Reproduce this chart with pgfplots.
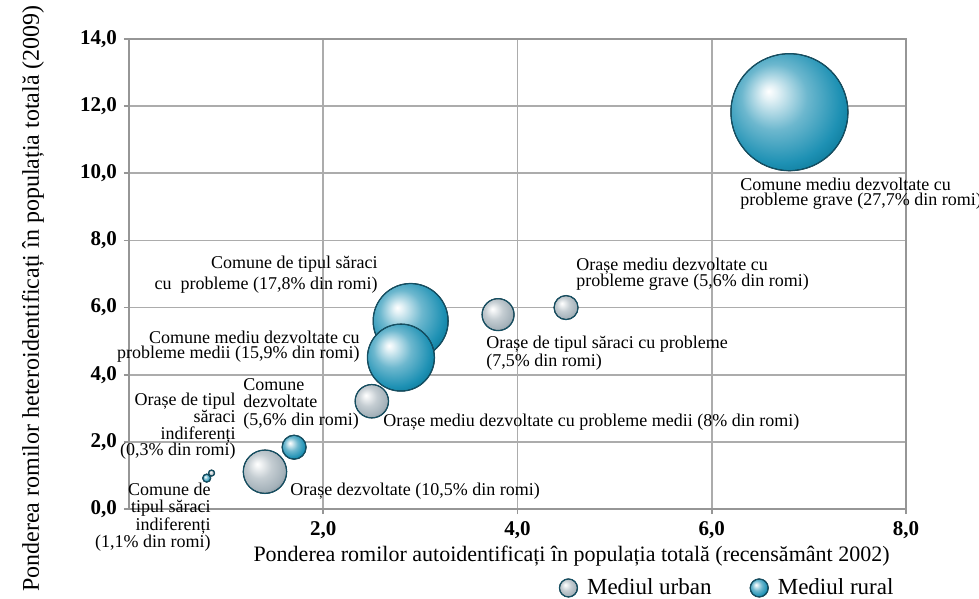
\documentclass[border=0pt]{standalone}
\usepackage{fontspec}
\setmainfont{Liberation Serif}
\usepackage{pgfplots}
\pgfplotsset{compat=1.18}
\usepackage{pgfplotstable}

\definecolor{blueA}{RGB}{30,145,180}
\definecolor{blueD}{RGB}{0,105,135}
\definecolor{greyA}{RGB}{165,178,186}
\definecolor{greyD}{RGB}{105,122,132}
\definecolor{edgec}{RGB}{20,80,100}
\definecolor{gridc}{RGB}{172,172,172}
\definecolor{axisc}{RGB}{150,150,150}

\pgfdeclareradialshading{bblue}{\pgfpoint{-9bp}{9bp}}{%
  color(0bp)=(white); color(3bp)=(blueA!12!white); color(14bp)=(blueA!65!white);
  color(26bp)=(blueA); color(36bp)=(blueD); color(50bp)=(blueD)}
\pgfdeclareradialshading{bgrey}{\pgfpoint{-9bp}{9bp}}{%
  color(0bp)=(white); color(3bp)=(greyA!12!white); color(14bp)=(greyA!65!white);
  color(26bp)=(greyA); color(36bp)=(greyD); color(50bp)=(greyD)}
\pgfdeclareplotmark{nothing}{}

% x = self-identified share, y = hetero-identified share, r = bubble radius (pt)
\pgfplotstableread{
x    y     r
3.80 5.79  8.0
4.50 6.00  6.0
2.50 3.21  8.35
1.40 1.11  10.85
0.85 1.07  1.5
}\urban
\pgfplotstableread{
x    y     r
6.80 11.82 29.25
2.90 5.60  18.75
2.80 4.51  16.75
1.70 1.84  6.0
0.80 0.92  2.0
}\rural

\tikzset{
  lbl/.style={inner sep=0pt, text=black},
}

\begin{document}
\begin{tikzpicture}
\begin{axis}[
  scale only axis, width=388.5pt, height=235pt,
  xmin=0, xmax=8, ymin=0, ymax=14,
  xtick={2,4,6,8}, ytick={0,2,...,14},
  grid=major, grid style={draw=gridc, line width=0.9pt},
  axis line style={draw=axisc, line width=1pt},
  tick style={draw=axisc, line width=0.8pt},
  tick align=outside, major tick length=2.5pt,
  xtick pos=left, ytick pos=left,
  /pgf/number format/fixed, /pgf/number format/fixed zerofill,
  /pgf/number format/precision=1, /pgf/number format/use comma,
  /pgf/number format/assume math mode=true,
  ticklabel style={font=\fontsize{10.5}{12}\selectfont\bfseries},
  xlabel={Ponderea romilor autoidentificați în populația totală (recensământ 2002)},
  ylabel={Ponderea romilor heteroidentificați în populația totală (2009)},
  xlabel style={font=\fontsize{11}{13}\selectfont, at={(axis description cs:0.5695,-0.1)}, anchor=center},
  ylabel style={font=\fontsize{12}{14}\selectfont, at={(axis description cs:-0.1236,0.448)}, anchor=center},
  clip=false,
  legend columns=2,
  legend style={at={(axis description cs:0.545,-0.168)}, anchor=west, draw=none, fill=none,
    font=\fontsize{11.5}{13}\selectfont,
    /tikz/every odd column/.append style={column sep=2.5pt},
    /tikz/every even column/.append style={column sep=17pt}},
]
\addplot[scatter, only marks, mark=nothing,
  visualization depends on={\thisrow{r} \as \rad},
  scatter/@pre marker code/.code={%
    \shade[shading=bgrey] (0,0) circle[radius=\rad pt];
    \draw[edgec, line width=0.6pt] (0,0) circle[radius=\rad pt];},
  scatter/@post marker code/.code={},
  legend image code/.code={%
    \shade[shading=bgrey] (0.3em,0) circle[radius=4.5pt];
    \draw[edgec, line width=0.6pt] (0.3em,0) circle[radius=4.5pt];},
] table[x=x, y=y] {\urban};
\addplot[scatter, only marks, mark=nothing,
  visualization depends on={\thisrow{r} \as \rad},
  scatter/@pre marker code/.code={%
    \shade[shading=bblue] (0,0) circle[radius=\rad pt];
    \draw[edgec, line width=0.6pt] (0,0) circle[radius=\rad pt];},
  scatter/@post marker code/.code={},
  legend image code/.code={%
    \shade[shading=bblue] (0.3em,0) circle[radius=4.5pt];
    \draw[edgec, line width=0.6pt] (0.3em,0) circle[radius=4.5pt];},
] table[x=x, y=y] {\rural};
\legend{Mediul urban, Mediul rural}

% annotations
\node[lbl, anchor=west, align=left, font=\fontsize{9}{7.5}\selectfont] at (axis cs:6.291,9.40)
  {Comune mediu dezvoltate cu\\probleme grave (27,7\% din romi)};
\node[lbl, anchor=east, align=right, font=\fontsize{9}{10.5}\selectfont] at (axis cs:2.564,6.97)
  {Comune de tipul săraci\\cu~ probleme (17,8\% din romi)};
\node[lbl, anchor=east, align=right, font=\fontsize{9}{7.5}\selectfont] at (axis cs:2.378,4.84)
  {Comune mediu dezvoltate cu\\probleme medii (15,9\% din romi)};
\node[lbl, anchor=west, align=left, font=\fontsize{9}{8.3}\selectfont] at (axis cs:4.602,6.99)
  {Orașe mediu dezvoltate cu\\probleme grave (5,6\% din romi)};
\node[lbl, anchor=west, align=left, font=\fontsize{9}{7}\selectfont] at (axis cs:3.676,4.65)
  {Orașe de tipul săraci cu probleme\\(7,5\% din romi)};
\node[lbl, anchor=west, font=\fontsize{9}{10}\selectfont] at (axis cs:2.615,2.59)
  {Orașe mediu dezvoltate cu probleme medii (8\% din romi)};
\node[lbl, anchor=west, align=left, font=\fontsize{9}{8.75}\selectfont] at (axis cs:1.174,3.13)
  {Comune\\dezvoltate\\(5,6\% din romi)};
\node[lbl, anchor=east, align=right, font=\fontsize{9}{8.4}\selectfont] at (axis cs:1.102,2.46)
  {Orașe de tipul\\săraci\\indiferenți\\(0,3\% din romi)};
\node[lbl, anchor=east, align=right, font=\fontsize{9}{8.7}\selectfont] at (axis cs:0.844,-0.24)
  {Comune de\\tipul săraci\\indiferenți\\(1,1\% din romi)};
\node[lbl, anchor=west, font=\fontsize{9}{10}\selectfont] at (axis cs:1.658,0.536)
  {Orașe dezvoltate (10,5\% din romi)};
\end{axis}
\pgfresetboundingbox
\path (-64.5pt,-45pt) rectangle (425pt,254.5pt);
\end{tikzpicture}
\end{document}
